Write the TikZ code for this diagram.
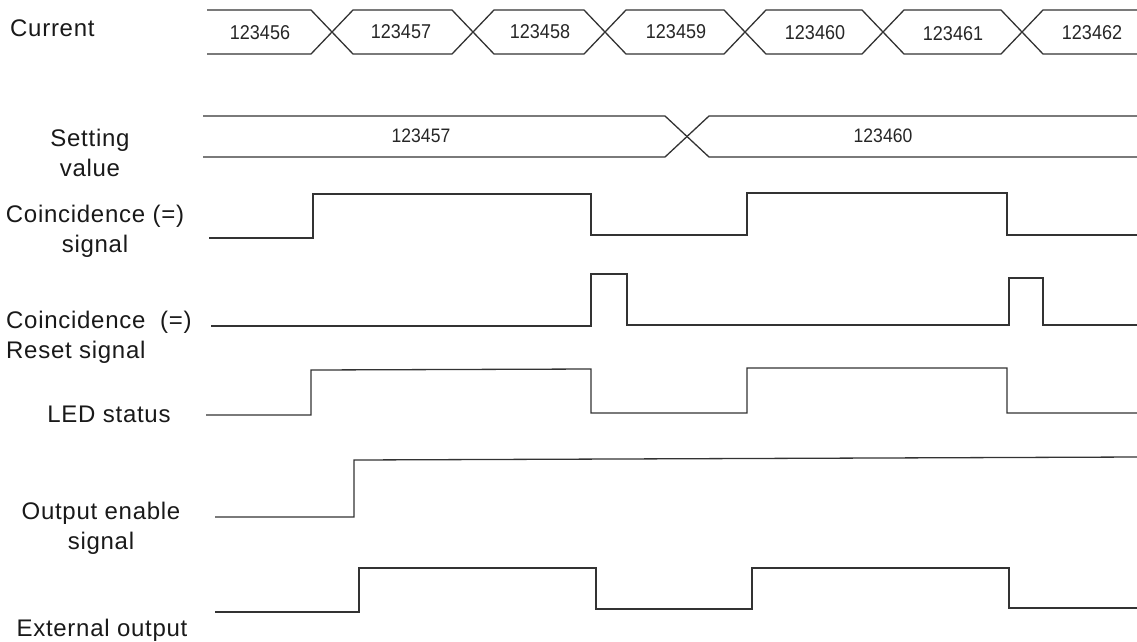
\documentclass[tikz,border=0pt]{standalone}
\usepackage{fontspec}
\setmainfont{Liberation Sans}[LetterSpace=3]
\newfontfamily\digitfont[FakeStretch=0.9]{Liberation Sans}
\begin{document}
\begin{tikzpicture}[x=1pt,y=-1pt,
  sig/.style={draw=black!80, line width=1.3pt, line join=miter},
  lbl/.style={inner sep=0pt, font=\fontsize{24}{30}\selectfont, text=black!90},
  val/.style={inner sep=0pt, font=\digitfont\fontsize{20}{24}\selectfont, text=black!85},
  sval/.style={inner sep=0pt, font=\digitfont\fontsize{19.5}{22}\selectfont, text=black!85}]
\useasboundingbox (0,0) rectangle (1137,641);
% ---------- labels ----------
\node[lbl, anchor=base west] (lcur) at (10,36) {Current};
\node[lbl, anchor=base, align=center] (lset) at (90,176) {Setting\\value};
\node[lbl, anchor=base, align=center] (lcoin) at (95,252) {Coincidence (=)\\signal};
\node[lbl, anchor=base west, align=left] (lrst) at (6,358) {Coincidence\ \ (=)\\Reset signal};
\node[lbl, anchor=base] (lled) at (109,422) {LED status};
\node[lbl, anchor=base, align=center] (lout) at (101,549) {Output enable\\signal};
\node[lbl, anchor=base] (lext) at (102,636) {External output};
% ---------- current bus ----------
\def\ct{10}\def\cb{54}\def\h{21}
\draw[sig] (207,\ct) -- (332-\h,\ct) -- (332+\h,\cb) -- (473-\h,\cb) -- (473+\h,\ct)
  -- (605-\h,\ct) -- (605+\h,\cb) -- (745-\h,\cb) -- (745+\h,\ct) -- (883-\h,\ct)
  -- (883+\h,\cb) -- (1022-\h,\cb) -- (1022+\h,\ct) -- (1137,\ct);
\draw[sig] (207,\cb) -- (332-\h,\cb) -- (332+\h,\ct) -- (473-\h,\ct) -- (473+\h,\cb)
  -- (605-\h,\cb) -- (605+\h,\ct) -- (745-\h,\ct) -- (745+\h,\cb) -- (883-\h,\cb)
  -- (883+\h,\ct) -- (1022-\h,\ct) -- (1022+\h,\cb) -- (1137,\cb);
\node[val] (c1) at (260,33) {123456};
\node[val] (c2) at (401,32) {123457};
\node[val] (c3) at (540,32) {123458};
\node[val] (c4) at (676,32) {123459};
\node[val] (c5) at (815,33) {123460};
\node[val] (c6) at (953,34) {123461};
\node[val] (c7) at (1092,33) {123462};
% ---------- setting bus ----------
\draw[sig] (203,116) -- (665,116) -- (709,157) -- (1137,157);
\draw[sig] (203,157) -- (665,157) -- (709,116) -- (1137,116);
\node[sval] (s1) at (421,136) {123457};
\node[sval] (s2) at (883,136) {123460};
% ---------- coincidence signal ----------
\draw[sig] (209,238) -- (313,238) -- (313,194) -- (591,194) -- (591,235) -- (747,235)
  -- (747,193) -- (1007,193) -- (1007,235) -- (1137,235);
% ---------- reset signal ----------
\draw[sig] (211,326) -- (591,326) -- (591,274) -- (627,274) -- (627,325) -- (1009,325)
  -- (1009,278) -- (1043,278) -- (1043,325) -- (1137,325);
% ---------- LED status ----------
\draw[sig] (206,415) -- (311,415) -- (311,370) -- (591,369) -- (591,413) -- (747,413)
  -- (747,368) -- (1007,368) -- (1007,413) -- (1137,413);
% ---------- output enable ----------
\draw[sig] (215,517) -- (354,517) -- (354,460) -- (1137,457);
% ---------- external output ----------
\draw[sig] (215,612) -- (359,612) -- (359,568) -- (596,568) -- (596,609) -- (752,609)
  -- (752,568) -- (1009,568) -- (1009,608) -- (1137,608);
\end{tikzpicture}
\end{document}
